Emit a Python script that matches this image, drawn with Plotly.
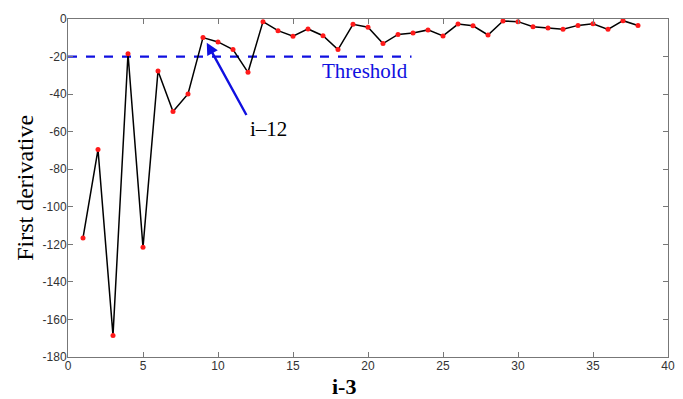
import plotly.graph_objects as go

x_vals = list(range(1, 39))
y_vals = [-116.6, -69.5, -168.5, -18.5, -121.6, -27.7, -49.3, -39.9, -9.9, -12.2,
          -16.3, -28.4, -1.4, -6.2, -9.2, -5.3, -8.9, -16.3, -2.8, -4.4,
          -13.1, -8.2, -7.4, -5.8, -9.0, -2.7, -3.6, -8.5, -1.1, -1.4,
          -4.1, -4.8, -5.5, -3.4, -2.5, -5.5, -0.9, -3.5]
threshold_value = -20
threshold_x = [0, 22.9]
x_ticks = [0, 5, 10, 15, 20, 25, 30, 35, 40]
y_ticks = [0, -20, -40, -60, -80, -100, -120, -140, -160, -180]
y_tick_text = ["0", "-20", "-40", "-60", "-80", "-100", "-120", "-140", "-160", "-180"]

fig = go.Figure()
fig.add_trace(go.Scatter(
    x=threshold_x, y=[threshold_value, threshold_value], mode="lines",
    line=dict(color="#1010e0", width=2.2, dash="dash"), showlegend=False))
fig.add_trace(go.Scatter(
    x=x_vals, y=y_vals, mode="lines+markers",
    line=dict(color="black", width=1.5),
    marker=dict(color="#ff1a1a", size=5), showlegend=False))

fig.add_annotation(x=19.8, y=-27.5, text="Threshold", showarrow=False,
                   font=dict(family="Liberation Serif", size=21, color="#1010e0"))
fig.add_annotation(x=9.25, y=-12.6, ax=11.95, ay=-51.9, xref="x", yref="y",
                   axref="x", ayref="y", text="", showarrow=True,
                   arrowhead=2, arrowsize=1.0, arrowwidth=2.4, arrowcolor="#1010e0")
fig.add_annotation(x=13.35, y=-58.5, text="i\u201312", showarrow=False,
                   font=dict(family="Liberation Serif", size=21, color="black"))

# axis titles placed as paper annotations
fig.add_annotation(xref="paper", yref="paper", x=0.46, y=-0.045, yanchor="top",
                   text="<b>i-3</b>", showarrow=False,
                   font=dict(family="Liberation Serif", size=22, color="black"))
fig.add_annotation(xref="paper", yref="paper", x=-0.072, xanchor="center", y=0.5,
                   textangle=-90, text="First derivative", showarrow=False,
                   font=dict(family="Liberation Serif", size=24, color="black"))

axis_common = dict(showline=True, linecolor="#777", linewidth=1, mirror="ticks",
                   ticks="inside", ticklen=5, tickcolor="#777", showgrid=False,
                   zeroline=False, automargin=False,
                   tickfont=dict(family="Liberation Sans", size=12, color="#333"))

fig.update_xaxes(range=[0, 40], tickvals=x_ticks, ticklabelstandoff=-2, **axis_common)
fig.update_yaxes(range=[-180, 0], tickvals=y_ticks, ticktext=y_tick_text,
                 ticklabelstandoff=-2, **axis_common)

fig.update_layout(width=683, height=399, margin=dict(l=68, r=15, t=19, b=42),
                  paper_bgcolor="white", plot_bgcolor="white")
fig.write_html("out.html", config={"displayModeBar": False},
               post_script="document.body.style.margin='0px';document.body.style.overflow='hidden';")
